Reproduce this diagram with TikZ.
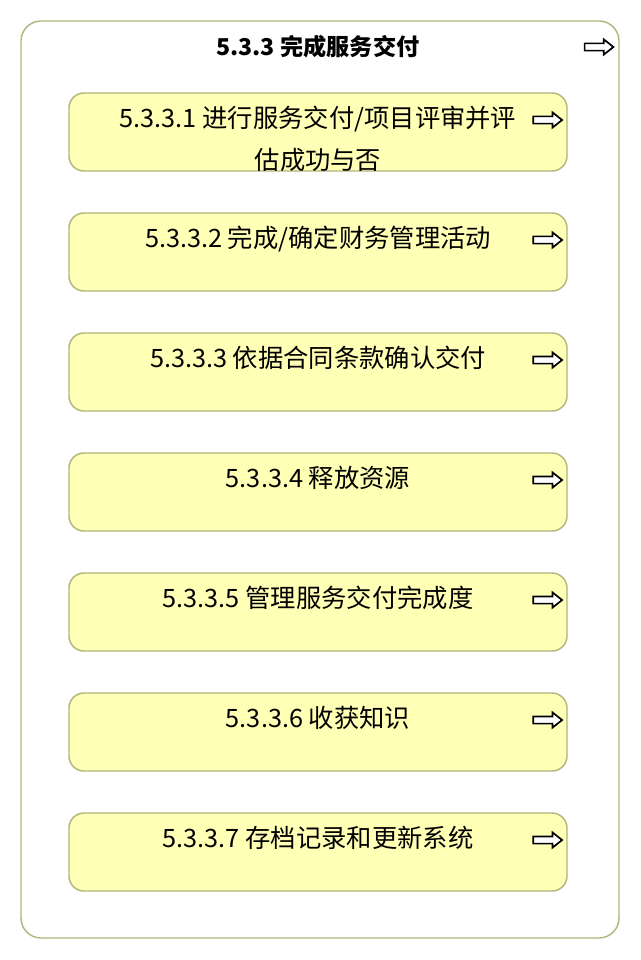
\documentclass[tikz,border=0pt]{standalone}
\usepackage{fontspec}
\setmainfont{Noto Sans CJK SC}
\usepackage{xcolor}
\usepackage{tikz}
\usetikzlibrary{positioning,calc}

\definecolor{taskfill}{HTML}{FFFFB5}
\definecolor{taskline}{HTML}{B3B37A}

\tikzset{
    groupbox/.style={draw=taskline, line width=1pt, fill=white, rounded corners=0.5cm},
    taskbox/.style={draw=taskline, line width=1pt, fill=taskfill, rounded corners=0.375cm,
        minimum width=12.45cm, minimum height=1.95cm, inner sep=0pt},
    tasklabel/.style={font=\fontsize{18}{30}\selectfont, align=center, inner sep=0pt, anchor=base},
    goarrow/.pic={
        \draw[fill=white, line width=1.2pt, line join=miter]
            (-0.36,0.09) -- (0.12,0.09) -- (0.12,0.19) -- (0.36,0)
            -- (0.12,-0.19) -- (0.12,-0.09) -- (-0.36,-0.09) -- cycle;
    }
}

\begin{document}
\begin{tikzpicture}
    \useasboundingbox (0,0) rectangle (16,-24);

    % Group
    \node [groupbox, minimum width=14.95cm, minimum height=22.925cm, inner sep=0pt] (group) at (8,-11.9875) {};
    \node [font=\bfseries\fontsize{16.5}{20}\selectfont, inner sep=0pt] (title) at (7.95,-1.175) {5.3.3 完成服务交付};
    \pic at (14.975,-1.175) {goarrow};

    % Tasks
    \node [taskbox] (b1) at (7.95,-3.3) {};
    \node [taskbox, below=1.015cm of b1] (b2) {};
    \node [taskbox, below=1.015cm of b2] (b3) {};
    \node [taskbox, below=1.015cm of b3] (b4) {};
    \node [taskbox, below=1.015cm of b4] (b5) {};
    \node [taskbox, below=1.015cm of b5] (b6) {};
    \node [taskbox, below=1.015cm of b6] (b7) {};

    % Labels
    \begin{scope}
        \clip [rounded corners=0.375cm] ($(b1.south west)+(0.02,0.02)$) rectangle ($(b1.north east)-(0.02,0.02)$);
        \node [tasklabel] (t1) at ([yshift=-0.94cm]b1.center) {5.3.3.1 进行服务交付/项目评审并评\\估成功与否};
    \end{scope}
    \node [tasklabel] (t2) at ([yshift=0.12cm]b2.center) {5.3.3.2 完成/确定财务管理活动};
    \node [tasklabel] (t3) at ([yshift=0.12cm]b3.center) {5.3.3.3 依据合同条款确认交付};
    \node [tasklabel] (t4) at ([yshift=0.12cm]b4.center) {5.3.3.4 释放资源};
    \node [tasklabel] (t5) at ([yshift=0.12cm]b5.center) {5.3.3.5 管理服务交付完成度};
    \node [tasklabel] (t6) at ([yshift=0.12cm]b6.center) {5.3.3.6 收获知识};
    \node [tasklabel] (t7) at ([yshift=0.12cm]b7.center) {5.3.3.7 存档记录和更新系统};

    % Icons
    \pic at ([xshift=-0.5cm, yshift=0.3cm]b1.east) {goarrow};
    \pic at ([xshift=-0.5cm, yshift=0.3cm]b2.east) {goarrow};
    \pic at ([xshift=-0.5cm, yshift=0.3cm]b3.east) {goarrow};
    \pic at ([xshift=-0.5cm, yshift=0.3cm]b4.east) {goarrow};
    \pic at ([xshift=-0.5cm, yshift=0.3cm]b5.east) {goarrow};
    \pic at ([xshift=-0.5cm, yshift=0.3cm]b6.east) {goarrow};
    \pic at ([xshift=-0.5cm, yshift=0.3cm]b7.east) {goarrow};

\end{tikzpicture}
\end{document}
